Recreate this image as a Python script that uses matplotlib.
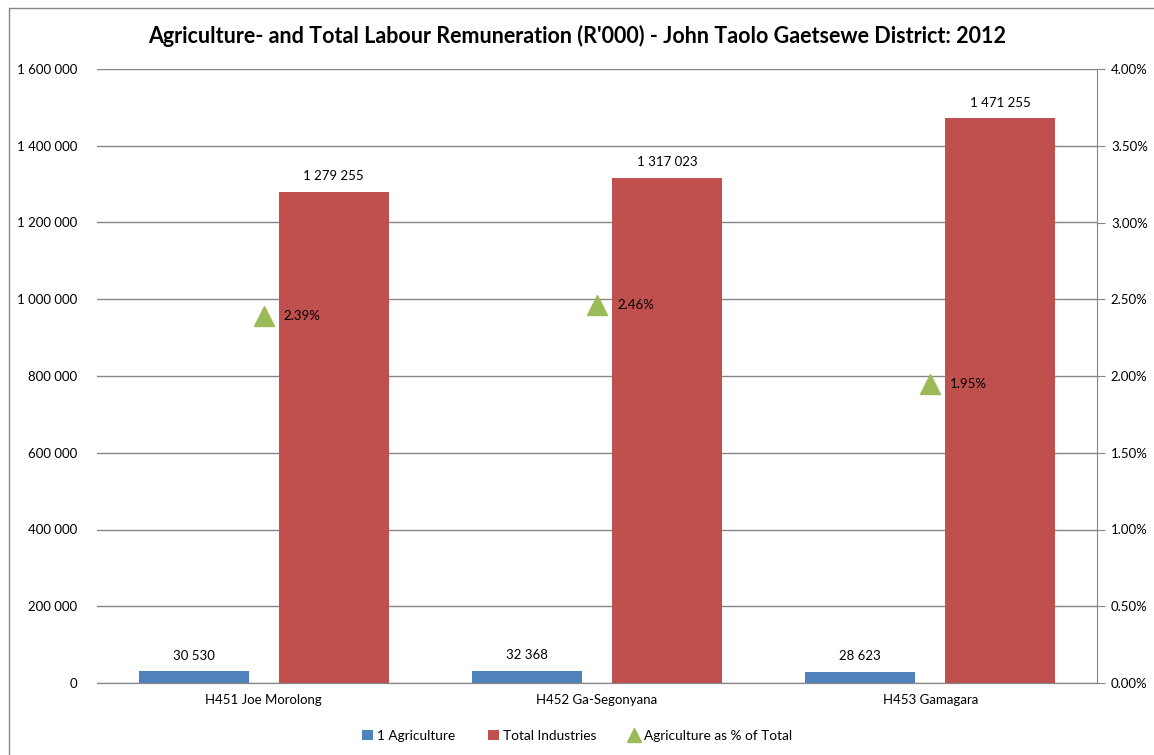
import numpy as np
import matplotlib.pyplot as plt
from matplotlib.patches import Rectangle
from matplotlib.ticker import FuncFormatter, PercentFormatter

plt.rcParams['font.family'] = ['Lato', 'DejaVu Sans']

# data
regions = ["H451 Joe Morolong", "H452 Ga-Segonyana", "H453 Gamagara"]
agriculture = [30530, 32368, 28623]
total = [1279255, 1317023, 1471255]
pct = [0.0239, 0.0246, 0.0195]

x = np.arange(len(regions))
w = 0.33
off = 0.21

fig = plt.figure(figsize=(11.54, 7.55), dpi=100)
ax = fig.add_axes([97 / 1154, 1 - 683 / 755, 1000 / 1154, 614 / 755])
ax2 = ax.twinx()

ax.bar(x - off, agriculture, w, color='#4f81bd', label='1 Agriculture', zorder=2)
ax.bar(x + off, total, w, color='#c0504d', label='Total Industries', zorder=2)
ax2.plot(x, pct, linestyle='none', marker='^', markersize=14, color='#9bbb59',
         label='Agriculture as % of Total', zorder=3)

fmt = lambda v: f"{int(v):,}".replace(",", " ")
for xi, v in zip(x - off, agriculture):
    ax.text(xi, v + 25000, fmt(v), ha='center', va='bottom', fontsize=9.5)
for xi, v in zip(x + off, total):
    ax.text(xi, v + 25000, fmt(v), ha='center', va='bottom', fontsize=9.5)
for xi, v in zip(x, pct):
    ax2.text(xi + 0.06, v, f"{v * 100:.2f}%", ha='left', va='center', fontsize=9.5)

ax.set_xlim(-0.5, 2.5)
ax.set_ylim(0, 1600000)
ax.set_yticks(np.arange(0, 1600001, 200000))
ax.yaxis.set_major_formatter(FuncFormatter(lambda v, p: fmt(v)))
ax2.set_ylim(0, 0.04)
ax2.set_yticks(np.arange(0, 0.0401, 0.005))
ax2.yaxis.set_major_formatter(PercentFormatter(1.0, decimals=2))

ax.set_xticks(x)
ax.set_xticklabels(regions)
ax.grid(axis='y', color='#868686', linewidth=1, zorder=0)
ax.tick_params(axis='y', length=0, labelsize=9.5, pad=14)
ax.tick_params(axis='x', length=0, labelsize=9.5, pad=8)
ax2.tick_params(axis='y', length=6, color='#868686', labelsize=9.5, pad=4)

for a in (ax, ax2):
    for s in ('top', 'left', 'right'):
        a.spines[s].set_visible(False)
    a.spines['bottom'].set_color('#868686')
ax2.spines['right'].set_visible(True)
ax2.spines['right'].set_color('#868686')

fig.text(0.5, 1 - 36 / 755, "Agriculture- and Total Labour Remuneration (R'000) - John Taolo Gaetsewe District: 2012",
         ha='center', va='center', fontsize=15.5, fontweight='bold')

h1, l1 = ax.get_legend_handles_labels()
h2, l2 = ax2.get_legend_handles_labels()
fig.legend(h1 + h2, l1 + l2, loc='center', bbox_to_anchor=(0.5, 1 - 736 / 755), ncol=3,
           frameon=False, fontsize=9.8, handlelength=0.8, handleheight=0.8,
           handletextpad=0.3, columnspacing=2.4, markerscale=0.75)

fig.patches.append(Rectangle((9 / 1154, -0.05), 1.2, 1 - 8 / 755 + 0.05, transform=fig.transFigure,
                             fill=False, edgecolor='#868686', linewidth=1))

fig.savefig('out.png', dpi=100)
